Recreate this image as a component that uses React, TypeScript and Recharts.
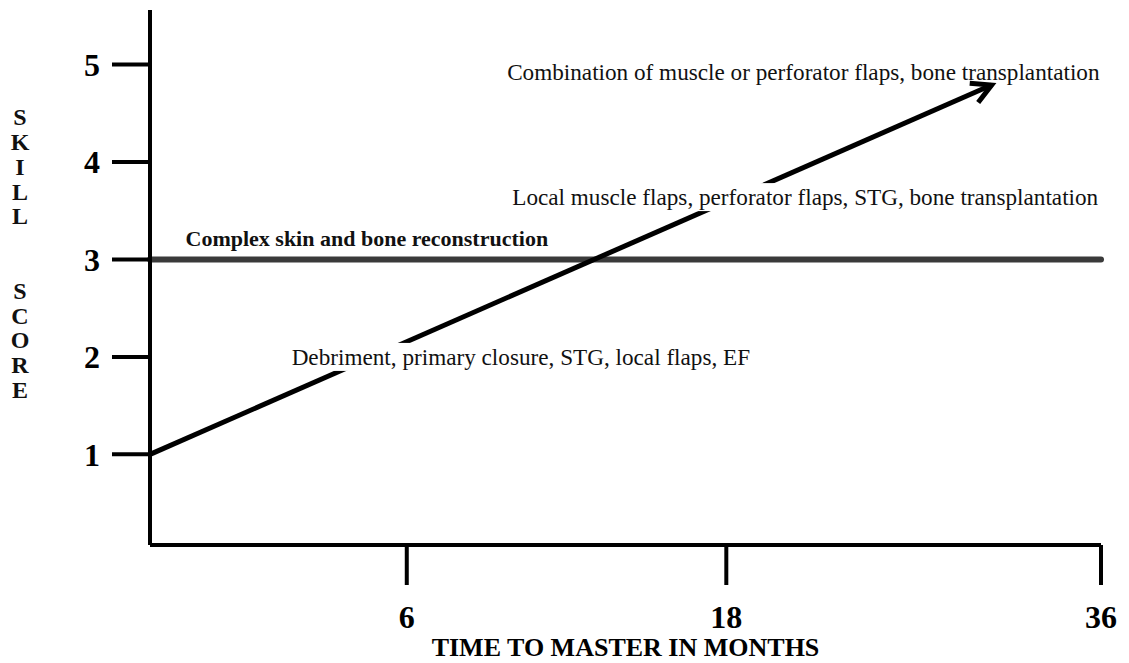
import { useLayoutEffect, useRef, useState } from 'react';
import { Line, LineChart, ReferenceDot, ReferenceLine, XAxis, YAxis } from 'recharts';

// the time axis is a staged timeline, not linear in months: labels sit at these stops
const monthLabels = ['6', '18', '36'];
const monthStops = [27, 60.6, 100];

const skillScores = [1, 2, 3, 4, 5];
const complexScore = 3;

// learning curve: start at score 1, arrow ends just under the top note
const curveTime = [0, 88.5];
const curveScore = [1, 4.79];

const noteText = [
  'Combination of muscle or perforator flaps, bone transplantation',
  'Local muscle flaps, perforator flaps, STG, bone transplantation',
  'Complex skin and bone reconstruction',
  'Debriment, primary closure, STG, local flaps, EF',
];
const noteTime = [68.7, 68.9, 22.8, 39.0];
const noteScore = [4.92, 3.64, 3.22, 2.0];
const noteBold = [false, false, true, false];
const noteMasked = [false, true, false, true];

const yTitle = 'SKILL  SCORE';
const xTitle = 'TIME TO MASTER IN MONTHS';

const font = '"Liberation Serif", "Times New Roman", serif';

const curveData = curveTime.map((t, i) => ({ time: t, score: curveScore[i] }));

function NoteLabel({ viewBox, value, bold, masked }: any) {
  const ref = useRef<SVGTextElement>(null);
  const [w, setW] = useState(0);
  useLayoutEffect(() => {
    if (ref.current) setW(ref.current.getBBox().width);
  }, [value]);
  const cx = viewBox.x + (viewBox.width || 0) / 2;
  const cy = viewBox.y + (viewBox.height || 0) / 2;
  return (
    <g>
      {masked && w > 0 && <rect x={cx - w / 2 - 3} y={cy - 14} width={w + 6} height={28} fill="#fff" />}
      <text
        ref={ref}
        x={cx}
        y={cy}
        textAnchor="middle"
        dominantBaseline="central"
        fontSize={bold ? 22 : 23.2}
        fontWeight={bold ? 700 : 400}
        fontFamily={font}
        fill="#111"
      >
        {value}
      </text>
    </g>
  );
}

function SkillTitle({ viewBox }: any) {
  const mid = viewBox.y + viewBox.height / 2 - 24;
  const step = 24.8;
  const chars = yTitle.split('');
  return (
    <text fontSize={24} fontWeight={700} fontFamily={font} fill="#111" textAnchor="middle" dominantBaseline="central">
      {chars.map((c, i) => (
        <tspan key={i} x={viewBox.x + 20} y={mid + (i - (chars.length - 1) / 2) * step}>
          {c === ' ' ? '' : c}
        </tspan>
      ))}
    </text>
  );
}

function ArrowTip(props: any) {
  const { cx, cy, index, points } = props;
  if (index !== curveData.length - 1 || !points || !points[index - 1]) return <g key={`d${index}`} />;
  const prev = points[index - 1];
  const ang = Math.atan2(cy - prev.y, cx - prev.x);
  const len = 22;
  const spread = 0.5;
  const ax = cx - len * Math.cos(ang - spread);
  const ay = cy - len * Math.sin(ang - spread);
  const bx = cx - len * Math.cos(ang + spread);
  const by = cy - len * Math.sin(ang + spread);
  return (
    <path
      key={`d${index}`}
      d={`M${ax},${ay}L${cx},${cy}L${bx},${by}`}
      stroke="#000"
      strokeWidth={5}
      fill="none"
    />
  );
}

export default function App() {
  return (
    <div style={{ position: 'absolute', left: 0, top: 0, background: '#fff' }}>
      <LineChart
        width={1129}
        height={663}
        data={curveData}
        margin={{ top: 10, right: 28, bottom: 0, left: 0 }}
        style={{ fontFamily: font }}
      >
        <XAxis
          type="number"
          dataKey="time"
          domain={[0, 100]}
          ticks={monthStops}
          tickFormatter={(v) => monthLabels[monthStops.indexOf(v)]}
          height={118}
          axisLine={{ stroke: '#000', strokeWidth: 4 }}
          tickLine={{ stroke: '#000', strokeWidth: 4 }}
          tickSize={40}
          tickMargin={20}
          tick={{ fontSize: 32, fontWeight: 700, fill: '#000' }}
          label={{ value: xTitle, position: 'insideBottom', offset: 7, fontSize: 26, fontWeight: 700, fill: '#000' }}
        />
        <YAxis
          type="number"
          domain={[0.07, 5.56]}
          ticks={skillScores}
          width={150}
          axisLine={{ stroke: '#000', strokeWidth: 4 }}
          tickLine={{ stroke: '#000', strokeWidth: 4 }}
          tickSize={38}
          tickMargin={12}
          tick={{ fontSize: 32, fontWeight: 700, fill: '#000' }}
          label={{ content: SkillTitle }}
        />
        <ReferenceLine y={complexScore} stroke="#3a3a3a" strokeWidth={6} strokeLinecap="round" />
        <Line
          dataKey="score"
          stroke="#000"
          strokeWidth={5}
          dot={ArrowTip}
          activeDot={false}
          isAnimationActive={false}
        />
        {noteText.map((t, i) => (
          <ReferenceDot
            key={t}
            x={noteTime[i]}
            y={noteScore[i]}
            r={0}
            fill="none"
            stroke="none"
            label={{
              content: (p: any) => <NoteLabel {...p} value={t} bold={noteBold[i]} masked={noteMasked[i]} />,
            }}
          />
        ))}
      </LineChart>
    </div>
  );
}
